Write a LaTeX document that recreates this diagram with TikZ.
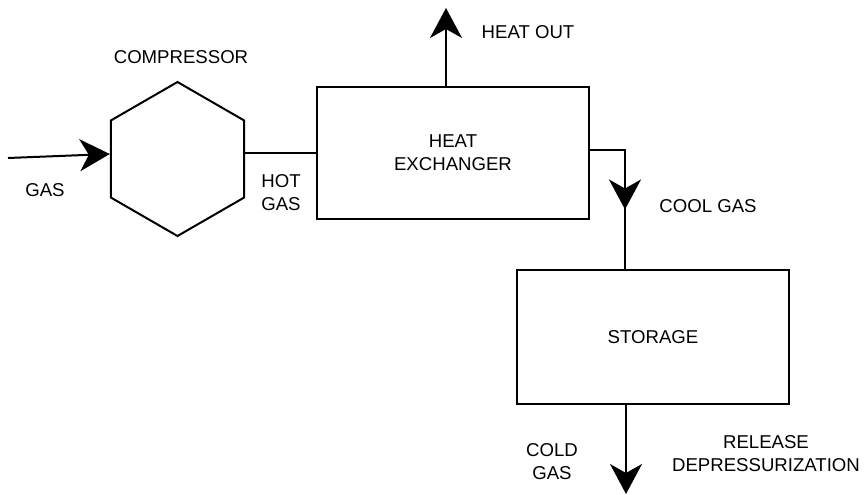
\documentclass[tikz,border=0pt]{standalone}
\usepackage{fontspec}
\setmainfont{Liberation Sans}
\usetikzlibrary{arrows.meta,shapes.geometric,calc}
\begin{document}
\begin{tikzpicture}[x=1pt,y=-1pt,
  every node/.style={font=\fontsize{18.6}{23}\selectfont},
  txt/.style={align=center, inner sep=0pt},
  box/.style={draw, line width=2pt, inner sep=0pt, align=center},
  hexa/.style={draw, line width=2pt, regular polygon, regular polygon sides=6,
    shape border rotate=30, minimum size=154pt, inner sep=0pt},
  wire/.style={line width=2pt},
  flow/.style={line width=2pt, -{Stealth[length=30pt, width=32pt, inset=9pt]}}]
\useasboundingbox (0,0) rectangle (865,495);
% shapes
\node[hexa] (comp) at (177.5,159) {};
\node[box, minimum width=272pt, minimum height=132pt] (he) at (453,153) {HEAT\\EXCHANGER};
\node[box, minimum width=272pt, minimum height=134pt] (st) at (653,337) {STORAGE};
% coordinates
\coordinate (g0) at (8,158);
\coordinate (ho) at (446,8);
\coordinate (cj) at (625,150);
\coordinate (cg) at (626,494);
% connectors
\draw[flow] (g0) -- ($(comp.west)+(0,-5)$);
\draw[wire] (comp.east |- he.west) -- (he.west);
\draw[flow] (he.north -| ho) -- (ho);
\coordinate (ct) at (cj |- st.north);
\draw[wire] (he.east |- cj) -- (cj) -- (ct);
\draw[flow] (cj) -- ($(cj)!0.5!(ct)$);
\draw[flow] (st.south -| cg) -- (cg);
% labels
\node[txt] (lcomp) at (181,57) {COMPRESSOR};
\node[txt] (lgas) at (45,190) {GAS};
\node[txt, align=left] (lhot) at (281,193) {HOT\\GAS};
\node[txt] (lho) at (528,32) {HEAT OUT};
\node[txt] (lcool) at (708,206) {COOL GAS};
\node[txt] (lcold) at (552,462) {COLD\\GAS};
\node[txt] (lrel) at (766,454) {RELEASE\\DEPRESSURIZATION};
\end{tikzpicture}
\end{document}
